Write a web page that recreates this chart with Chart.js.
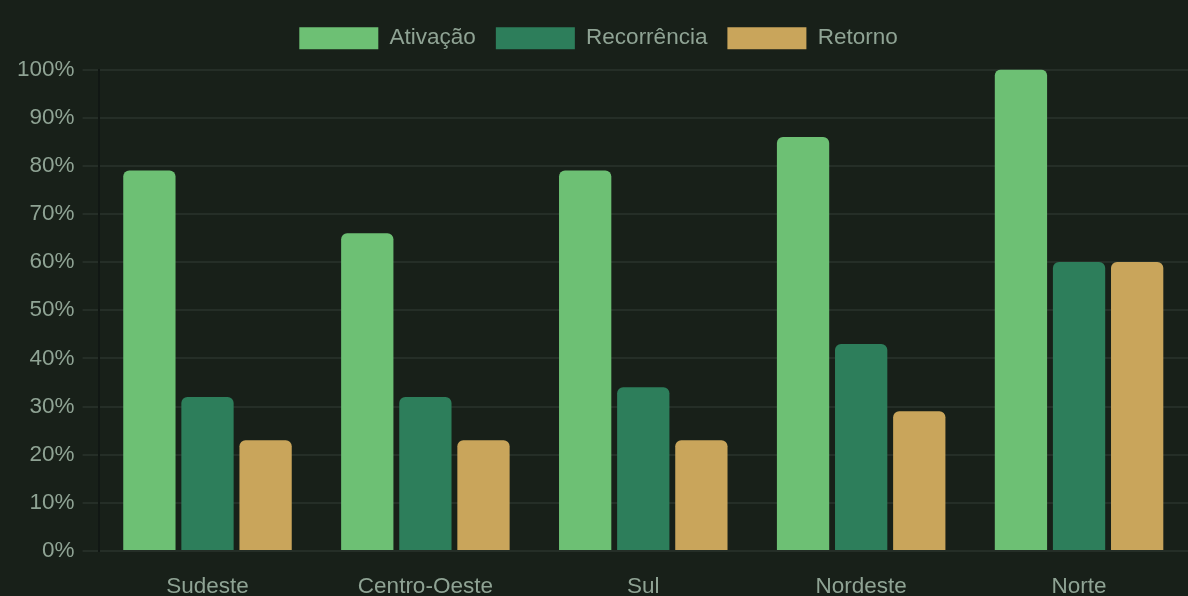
<!DOCTYPE html>
<html>
<head>
<meta charset="utf-8">
<script src="https://cdn.jsdelivr.net/npm/chart.js@4"></script>
<style>
  html, body { margin: 0; padding: 0; background: #182019; overflow: hidden; }
  canvas { display: block; }
</style>
</head>
<body>
<canvas id="myChart" width="1188" height="614"></canvas>
<script>
/* ── data ───────────────────────────── */
const REGIONS    = ['Sudeste', 'Centro-Oeste', 'Sul', 'Nordeste', 'Norte'];
const ATIVACAO   = [79, 66, 79, 86, 100];
const RECORRENCIA = [32, 32, 34, 43, 60];
const RETORNO    = [23, 23, 23, 29, 60];

const TEXT = '#8fa394';
const FONT = "'Liberation Sans', Arial, sans-serif";
const FS = 22.5;

Chart.defaults.font.family = FONT;
Chart.defaults.color = TEXT;

// a bit more room under the legend
const legendGap = {
  id: 'legendGap',
  beforeInit(chart) {
    const fit = chart.legend.fit;
    chart.legend.fit = function () {
      fit.bind(chart.legend)();
      this.height += 10;
    };
  }
};

const ctx = document.getElementById('myChart').getContext('2d');
new Chart(ctx, {
  type: 'bar',
  data: {
    labels: REGIONS,
    datasets: [
      { label: 'Ativação',    data: ATIVACAO,    backgroundColor: '#6dc074', borderRadius: 6, borderSkipped: 'bottom' },
      { label: 'Recorrência', data: RECORRENCIA, backgroundColor: '#2d7e5b', borderRadius: 6, borderSkipped: 'bottom' },
      { label: 'Retorno',     data: RETORNO,     backgroundColor: '#c9a55b', borderRadius: 6, borderSkipped: 'bottom' }
    ]
  },
  plugins: [legendGap],
  options: {
    responsive: false,
    animation: false,
    layout: { padding: { top: 7, right: 0, left: 9, bottom: 0 } },
    plugins: {
      legend: {
        position: 'top',
        labels: { boxWidth: 79, boxHeight: 22, padding: 20, font: { size: FS }, color: TEXT }
      },
      tooltip: { enabled: false }
    },
    scales: {
      x: {
        grid: { display: false },
        border: { display: false },
        ticks: { font: { size: FS }, color: TEXT, padding: 14 }
      },
      y: {
        min: 0,
        max: 100,
        grid: { color: '#252e27', lineWidth: 2, tickLength: 16 },
        border: { display: true, color: '#111714', width: 2 },
        ticks: { stepSize: 10, font: { size: FS }, color: TEXT, padding: 8, callback: v => v + '%' }
      }
    }
  }
});
</script>
</body>
</html>
